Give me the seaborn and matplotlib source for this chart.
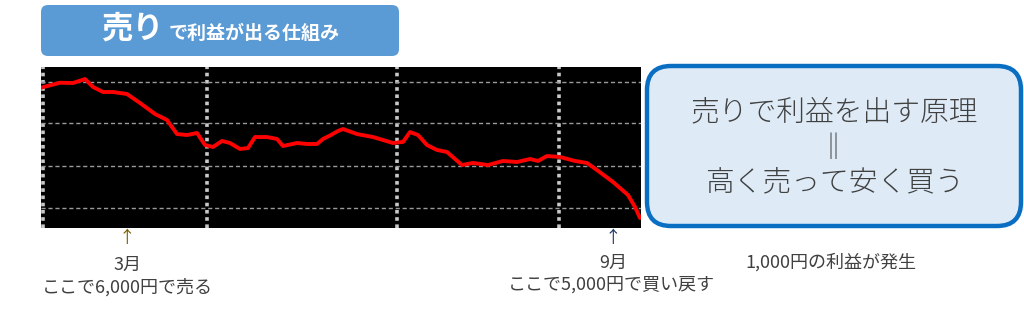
import matplotlib
matplotlib.use("Agg")
import matplotlib.pyplot as plt
from matplotlib.patches import FancyBboxPatch
import seaborn as sns
import pandas as pd

# ---- data ----
day = [0, 19, 32, 44, 52, 62, 72, 86, 99, 114, 126, 136, 146, 156, 164, 172,
       181, 189, 199, 207, 214, 226, 236, 242, 256, 266, 276, 282, 290, 297,
       302, 316, 332, 352, 362, 369, 377, 386, 396, 406, 421, 432, 447, 462,
       476, 489, 497, 506, 519, 534, 546, 556, 572, 587, 594, 599]
price = [6072, 6128, 6125, 6170, 6080, 6023, 6023, 6000, 5898, 5773, 5705, 5545,
         5534, 5557, 5420, 5398, 5466, 5443, 5375, 5386, 5511, 5511, 5489, 5409,
         5443, 5432, 5432, 5489, 5534, 5580, 5602, 5545, 5511, 5443, 5455, 5568,
         5534, 5420, 5364, 5341, 5193, 5216, 5193, 5239, 5227, 5261, 5239, 5295,
         5284, 5239, 5216, 5136, 5000, 4852, 4716, 4591]
v_grid = [2, 166, 356, 518]
h_grid = [4705, 5182, 5670, 6136]

title_big = "売り"
title_small = "で利益が出る仕組み"
box_lines = ["売りで利益を出す原理", "||", "高く売って安く買う"]
sell_month, sell_note = "3月", "ここで6,000円で売る"
buy_month, buy_note = "9月", "ここで5,000円で買い戻す"
profit_note = "1,000円の利益が発生"

sns.set_style("white")
plt.rcParams['font.family'] = ['Noto Sans CJK JP', 'DejaVu Sans']

W, H = 1024, 309
fig = plt.figure(figsize=(W / 100, H / 100), dpi=100)

# overlay in pixel coordinates
ov = fig.add_axes([0, 0, 1, 1])
ov.set_xlim(0, W)
ov.set_ylim(H, 0)
ov.axis("off")

# title box
ov.add_patch(FancyBboxPatch((41, 5), 358, 51, boxstyle="round,pad=0,rounding_size=7",
                            fc="#5B9BD5", ec="none"))
ov.text(132, 29, title_big, color="white", fontsize=22.5, fontweight="bold",
        ha="center", va="center")
ov.text(169, 33, title_small, color="white", fontsize=13.7, fontweight="bold",
        ha="left", va="center")

# right box
ov.add_patch(FancyBboxPatch((647, 66), 374, 160, boxstyle="round,pad=0,rounding_size=24",
                            fc="#DEEBF7", ec="#0A6FC2", lw=3.2))
for yy, t, fs in zip([112, 146, 182], box_lines, [20.7, 17, 20.7]):
    ov.text(834, yy, t, color="#404040", fontsize=fs, fontweight="light",
            ha="center", va="center")

# annotations
txt_c = "#404040"
ov.text(127, 239, "↑", color="#7F6000", fontsize=12, ha="center", va="center")
ov.text(127, 265, sell_month, color=txt_c, fontsize=13, ha="center", va="center")
ov.text(42, 287, sell_note, color=txt_c, fontsize=13, ha="left", va="center")
ov.text(613, 239, "↑", color="#1F3864", fontsize=12, ha="center", va="center")
ov.text(613, 263, buy_month, color=txt_c, fontsize=13, ha="center", va="center")
ov.text(508, 285, buy_note, color=txt_c, fontsize=13, ha="left", va="center")
ov.text(745, 262, profit_note, color=txt_c, fontsize=13, ha="left", va="center")

# price chart
ax = fig.add_axes([41 / W, 1 - 228 / H, 600 / W, 161 / H])
ax.set_facecolor("black")
df = pd.DataFrame({"day": day, "price": price})
sns.lineplot(data=df, x="day", y="price", ax=ax, color="#FF0000", lw=2.8)
ax.set_xlim(0, 600)
ax.set_ylim(4477, 6307)
ax.set_xticks(v_grid)
ax.set_yticks(h_grid)
ax.set_axisbelow(True)
ax.xaxis.grid(True, color="#C8C8C8", lw=2.6, ls=(0, (1, 1)))
ax.yaxis.grid(True, color="#9A9A9A", lw=1.0, ls=(0, (3, 2)))
ax.tick_params(length=0, labelbottom=False, labelleft=False)
ax.set_xlabel("")
ax.set_ylabel("")
for s in ax.spines.values():
    s.set_visible(False)

fig.savefig("out.png", dpi=100)
